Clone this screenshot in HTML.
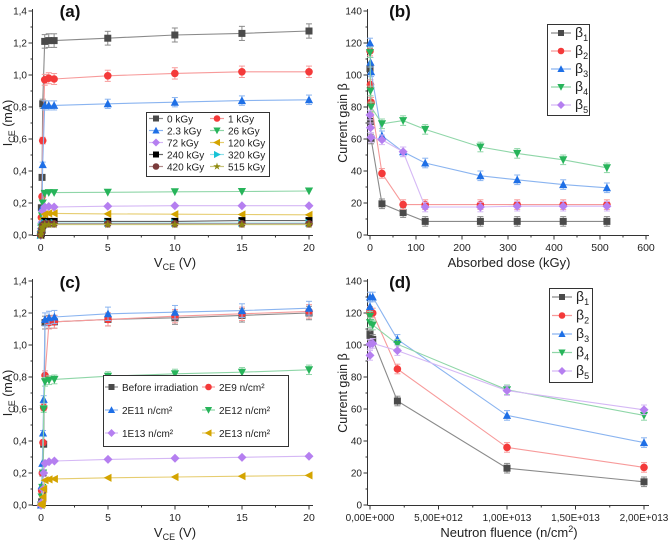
<!DOCTYPE html>
<html><head><meta charset="utf-8"><style>
body{margin:0;background:#fff}
svg{display:block;font-family:"Liberation Sans",sans-serif}
</style></head><body>
<svg id="c" width="669" height="544" viewBox="0 0 669 544" xmlns="http://www.w3.org/2000/svg"></svg>
<script>
// ---------- Panel (a) data ----------
const aX = [0,0.05,0.1,0.15,0.3,0.6,1,5,10,15,20];
const aNames = ["0 kGy","1 kGy","2.3 kGy","26 kGy","72 kGy","120 kGy","240 kGy","320 kGy","420 kGy","515 kGy"];
const a0 = [0,0.17,0.36,0.82,1.21,1.215,1.215,1.23,1.25,1.26,1.275];
const a1 = [0,0.11,0.24,0.59,0.97,0.98,0.975,0.995,1.01,1.02,1.02];
const a2 = [0,0.08,0.17,0.44,0.81,0.81,0.81,0.82,0.83,0.84,0.845];
const a3 = [0,0.05,0.12,0.2,0.26,0.265,0.265,0.267,0.27,0.272,0.275];
const a4 = [0,0.04,0.08,0.15,0.175,0.178,0.175,0.18,0.183,0.183,0.183];
const a5 = [0,0.03,0.06,0.1,0.13,0.135,0.135,0.132,0.13,0.128,0.126];
const a6 = [0,0.01,0.03,0.06,0.085,0.085,0.085,0.085,0.085,0.09,0.09];
const a7 = [0,0.02,0.04,0.06,0.075,0.075,0.075,0.075,0.075,0.075,0.075];
const a8 = [0,0.02,0.04,0.06,0.07,0.07,0.07,0.07,0.07,0.07,0.07];
const a9 = [0,0.02,0.04,0.05,0.065,0.065,0.065,0.065,0.065,0.065,0.065];
const aYTicks = ["0,0","0,2","0,4","0,6","0,8","1,0","1,2","1,4"];
const vTicks = ["0","5","10","15","20"];
// ---------- Panel (b) data ----------
const bX = [0,1,2.3,26,72,120,240,320,420,515];
const b1 = [104,71,60,19.5,14,8.5,8.5,8.5,8.5,8.5];
const b2 = [115,94,83,38.5,19,19,19,19,19,19];
const b3 = [120,108,102,62,52,45,37,34.5,31.5,29.5];
const b4 = [114,90,80,69.5,71.5,66,55,51,47,42];
const b5 = [75,67,61,59.5,52,17.5,17.5,18,18,18];
const bXTicks = ["0","100","200","300","400","500","600"];
const gYTicks = ["0","20","40","60","80","100","120","140"];
// ---------- Panel (c) data ----------
const cX = [0,0.05,0.1,0.15,0.2,0.3,0.6,1,5,10,15,20];
const cNames = ["Before irradiation","2E9 n/cm²","2E11 n/cm²","2E12 n/cm²","1E13 n/cm²","2E13 n/cm²"];
const c0 = [0,0.02,0.09,0.2,0.38,1.14,1.145,1.145,1.16,1.17,1.185,1.2];
const c1 = [0,0.09,0.2,0.39,0.61,0.81,1.14,1.145,1.16,1.18,1.195,1.21];
const c2 = [0,0.12,0.26,0.45,0.66,1.16,1.17,1.175,1.195,1.205,1.215,1.23];
const c3 = [0,0.05,0.11,0.2,0.6,0.77,0.78,0.785,0.805,0.82,0.83,0.845];
const c4 = [0,0.01,0.02,0.1,0.2,0.26,0.27,0.275,0.285,0.292,0.298,0.305];
const c5 = [0,0.01,0.01,0.05,0.1,0.155,0.16,0.163,0.17,0.175,0.18,0.185];
// ---------- Panel (d) data ----------
const dX = [0,2e9,2e11,2e12,1e13,2e13];
const d1 = [107,106,103.5,65,23,14.5];
const d2 = [121,120,120,85,36,23.5];
const d3 = [124,130,130,103.5,56,39];
const d4 = [118,114,112.5,100.5,72,56];
const d5 = [93.5,100.5,101,96.5,71.5,59.5];
const dXTicks = ["0,00E+000","5,00E+012","1,00E+013","1,50E+013","2,00E+013"];

const NS="http://www.w3.org/2000/svg";
const svg=document.getElementById('c');
function mk(tag,attrs,parent){const e=document.createElementNS(NS,tag);for(const k in attrs)e.setAttribute(k,attrs[k]);(parent||svg).appendChild(e);return e;}
function txt(s,x,y,size,anchor,parent,extra){const t=mk('text',Object.assign({x:x,y:y,'font-size':size,'text-anchor':anchor||'middle',fill:'#222'},extra||{}),parent);t.textContent=s;return t;}

const STY={
 sq:{c:'#4a4a4a',l:'#8a8a8a'},ci:{c:'#f43a3a',l:'#f79a9a'},up:{c:'#1e6fe6',l:'#8ab4f0'},
 dn:{c:'#27b45a',l:'#8fd6a8'},di:{c:'#b57ff0',l:'#d5b8f5'},lt:{c:'#d4a400',l:'#e6cd70'},
 bsq:{c:'#000',l:'#666'},rt:{c:'#17c3d6',l:'#8fe0ea'},bci:{c:'#7b3b3b',l:'#b08a8a'},st:{c:'#8f8a10',l:'#c8c47a'}
};
function marker(kind,x,y,g,s){
 s=s||3.5;const col=STY[kind].c;
 let e;
 if(kind==='sq'||kind==='bsq')e=mk('rect',{x:x-s,y:y-s,width:2*s,height:2*s,fill:col},g);
 else if(kind==='ci'||kind==='bci')e=mk('circle',{cx:x,cy:y,r:s+0.3,fill:col},g);
 else if(kind==='up')e=mk('polygon',{points:`${x},${y-s-0.8} ${x+s+0.6},${y+s} ${x-s-0.6},${y+s}`,fill:col},g);
 else if(kind==='dn')e=mk('polygon',{points:`${x},${y+s+0.8} ${x+s+0.6},${y-s} ${x-s-0.6},${y-s}`,fill:col},g);
 else if(kind==='di')e=mk('polygon',{points:`${x},${y-s-1} ${x+s+1},${y} ${x},${y+s+1} ${x-s-1},${y}`,fill:col},g);
 else if(kind==='lt')e=mk('polygon',{points:`${x-s-0.8},${y} ${x+s},${y-s-0.6} ${x+s},${y+s+0.6}`,fill:col},g);
 else if(kind==='rt')e=mk('polygon',{points:`${x+s+0.8},${y} ${x-s},${y-s-0.6} ${x-s},${y+s+0.6}`,fill:col},g);
 else if(kind==='st'){let p=[];for(let i=0;i<10;i++){const r=i%2?s*0.5:s+1;const a=-Math.PI/2+i*Math.PI/5;p.push((x+r*Math.cos(a)).toFixed(1)+','+(y+r*Math.sin(a)).toFixed(1));}e=mk('polygon',{points:p.join(' '),fill:col},g);}
 
 
 return e;
}
function axes(p){
 const g=mk('g',{});
 
 
 mk('line',{x1:p.x0-0.5,y1:p.yb,x2:p.x0-0.5,y2:p.yt-2,stroke:'#333','stroke-width':1},g);
 mk('line',{x1:p.x0-0.5,y1:p.yb+0.5,x2:p.xr,y2:p.yb+0.5,stroke:'#333','stroke-width':1},g);
 p.yTicks.forEach((t,i)=>{const y=p.sy(i*p.yStep);
  mk('line',{x1:p.x0-4.5,y1:y,x2:p.x0-0.5,y2:y,stroke:'#333'},g);
  if(i<p.yTicks.length-1){const ym=p.sy((i+0.5)*p.yStep);mk('line',{x1:p.x0-2.5,y1:ym,x2:p.x0-0.5,y2:ym,stroke:'#333'},g);}
  const tl=txt(t,p.x0-6,y+3.5,10,'end',g);});
 p.xTicks.forEach((t,i)=>{const x=p.sx(i*p.xStep);
  mk('line',{x1:x,y1:p.yb+0.5,x2:x,y2:p.yb+4.5,stroke:'#333'},g);
  if(i<p.xTicks.length-1){const xm=p.sx((i+0.5)*p.xStep);mk('line',{x1:xm,y1:p.yb+0.5,x2:xm,y2:p.yb+2.5,stroke:'#333'},g);}
  const tl=txt(t,x,p.yb+16,p.xfs||10.5,'middle',g);});
 const lab=txt(p.label,p.lx,p.ly,17,'middle',g,{'font-weight':'bold',fill:'#111'});
 
 return g;
}
function series(p,xs,ys,kind,err){
 const g=mk('g',{});
 
 
 const pts=xs.map((x,i)=>p.sx(x).toFixed(1)+','+p.sy(ys[i]).toFixed(1)).join(' ');
 mk('polyline',{points:pts,fill:'none',stroke:STY[kind].l,'stroke-width':1.1},g);
 xs.forEach((x,i)=>{const X=p.sx(x),Y=p.sy(ys[i]);
  if(err){const e=p.sy(0)-p.sy(ys[i]*err.rel+err.abs);if(e>1.5){
   mk('line',{x1:X,y1:Y-e,x2:X,y2:Y+e,stroke:STY[kind].l,'stroke-width':1},g);
   mk('line',{x1:X-3,y1:Y-e,x2:X+3,y2:Y-e,stroke:STY[kind].l},g);
   mk('line',{x1:X-3,y1:Y+e,x2:X+3,y2:Y+e,stroke:STY[kind].l},g);}}
  marker(kind,X,Y,g);});
}
function legendEntry(g,kind,x,y,label,sub,len,fs){
 len=len||22;
 mk('line',{x1:x,y1:y,x2:x+len,y2:y,stroke:STY[kind].l,'stroke-width':1.2},g);
 marker(kind,x+len/2,y,g,3);
 const t=txt(label,x+len+4,y+3.8,sub?14:(fs||10),'start',g);
 if(sub){const s=mk('tspan',{'font-size':9,dy:4},t);s.textContent=sub;}
 
}
function legendBox(x,y,w,h,name){const g=mk('g',{});mk('rect',{x:x+0.5,y:y+0.5,width:w,height:h,fill:'#fff',stroke:'#333'},g);return g;}
function yTitle(x,y,main,sub,rest){const t=mk('text',{x:x,y:y,'font-size':12.5,'text-anchor':'middle',fill:'#222',transform:`rotate(-90 ${x} ${y})`});
 
 t.appendChild(document.createTextNode(main));
 if(sub){const s=mk('tspan',{'font-size':9,dy:3},t);s.textContent=sub;const r=mk('tspan',{dy:-3},t);r.textContent=rest;}}
function xTitle(x,y,main,sub,rest,sup){const t=txt(main,x,y,13,'middle');
 
 if(sub){const s=mk('tspan',{'font-size':9,dy:3},t);s.textContent=sub;const r=mk('tspan',{dy:-3},t);r.textContent=rest;}
 if(sup){const s=mk('tspan',{'font-size':9,dy:-5},t);s.textContent=sup;const r=mk('tspan',{dy:5},t);r.textContent=')';}}

// ---------- Panel a ----------
const A={name:'panel-a',x0:33,yb:235,yt:11,xr:313,sx:v=>40.7+v*(309-40.7)/20,sy:v=>235-v*(224/1.4),yTicks:aYTicks,yStep:0.2,xTicks:vTicks,xStep:5,label:'(a)',lx:70,ly:17};
axes(A);
const aS=[a0,a1,a2,a3,a4,a5,a6,a7,a8,a9],aK=['sq','ci','up','dn','di','lt','bsq','rt','bci','st'];
aS.forEach((s,i)=>series(A,aX,s,aK[i],i<3?{rel:0.035,abs:0}:null));
yTitle(12,123,'I','CE',' (mA)');xTitle(175,267,'V','CE',' (V)');
{const g=legendBox(146,112,123,64,'legend-a');aNames.forEach((n,i)=>legendEntry(g,aK[i],149+(i%2)*61,118.5+Math.floor(i/2)*12,n,null,14,10));}

// ---------- Panel b ----------
const B={name:'panel-b',x0:368,yb:235,yt:11,xr:649,sx:v=>370+v*(276/600),sy:v=>235-v*(224/140),yTicks:gYTicks,yStep:20,xTicks:bXTicks,xStep:100,label:'(b)',lx:400,ly:17};
axes(B);
const bS=[b1,b2,b3,b4,b5],bK=['sq','ci','up','dn','di'];
bS.forEach((s,i)=>series(B,bX,s,bK[i],{rel:0,abs:3}));
yTitle(347,123,'Current gain β');xTitle(509,267,'Absorbed dose (kGy)');
{const g=legendBox(547,24,42,91,'legend-b');bK.forEach((k,i)=>legendEntry(g,k,551,33+i*18,'β',String(i+1),20));}

// ---------- Panel c ----------
const C={name:'panel-c',x0:33,yb:505,yt:281,xr:313,sx:v=>41+v*(268/20),sy:v=>505-v*(224/1.4),yTicks:aYTicks,yStep:0.2,xTicks:vTicks,xStep:5,label:'(c)',lx:70,ly:288};
axes(C);
const cS=[c0,c1,c2,c3,c4,c5],cK=['sq','ci','up','dn','di','lt'];
cS.forEach((s,i)=>series(C,cX,s,cK[i],i<4?{rel:0.035,abs:0}:null));
yTitle(12,393,'I','CE',' (mA)');xTitle(175,537,'V','CE',' (V)');
{const g=legendBox(103,375,185,71,'legend-c');cNames.forEach((n,i)=>legendEntry(g,cK[i],105+(i%2)*97,387+Math.floor(i/2)*23,n,null,13,10));}

// ---------- Panel d ----------
const D={name:'panel-d',x0:368,yb:505,yt:281,xr:649,sx:v=>370+v*(274/2e13),sy:v=>505-v*(224/140),yTicks:gYTicks,yStep:20,xTicks:dXTicks,xStep:5e12,label:'(d)',lx:400,ly:288,xfs:10};
axes(D);
const dS=[d1,d2,d3,d4,d5];
dS.forEach((s,i)=>series(D,dX,s,bK[i],{rel:0,abs:3}));
yTitle(347,393,'Current gain β');xTitle(509,537,'Neutron fluence (n/cm','',null,'2');
{const g=legendBox(549,288,43,94,'legend-d');bK.forEach((k,i)=>legendEntry(g,k,552,297+i*18.5,'β',String(i+1),20));}
</script>
</body></html>
